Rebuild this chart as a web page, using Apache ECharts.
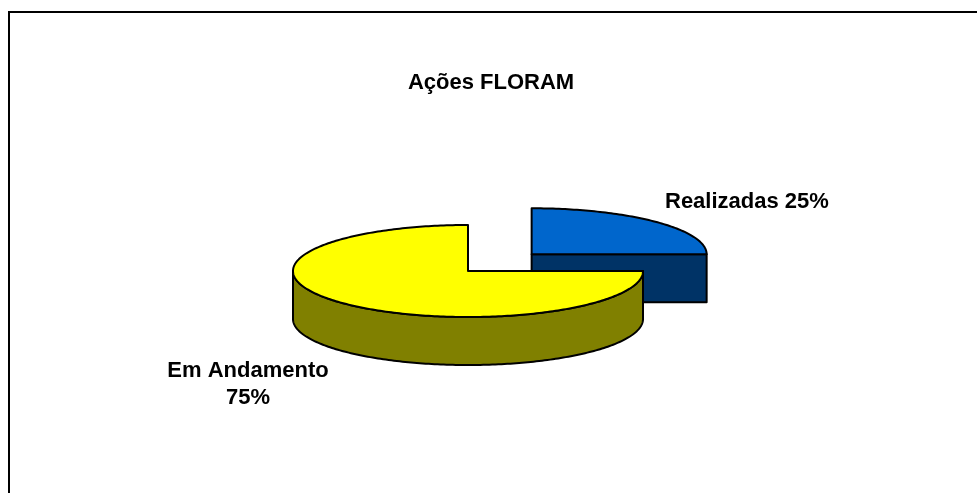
<!DOCTYPE html>
<html>
<head>
<meta charset="utf-8">
<script src="https://cdn.jsdelivr.net/npm/echarts@6/dist/echarts.min.js"></script>
<style>
  html, body { margin: 0; padding: 0; background: #fff; }
  #chart { width: 977px; height: 493px; }
</style>
</head>
<body>
<div id="chart"></div>
<script>
// data
const categories = ["Realizadas", "Em Andamento"];
const values = [25, 75];
const title_text = "Ações FLORAM";

// slice colors (top face / side face)
const top_colors = ["#0066CC", "#FFFF00"];
const side_colors = ["#003366", "#808000"];

// pie geometry
const cx = 468, cy = 271, rx = 175, ry = 46, depth = 48;
const explode_dist = 90;
const exploded = [true, false];
const font = "bold 22px Arial, 'Liberation Sans', sans-serif";

// label placement: [x, y, align, separator]
const label_pos = [
  [665, 202, "left", " "],
  [248, 384, "center", "\n"],
];

const total = values.reduce((a, b) => a + b, 0);

const pt = (c, a, dy) => [c[0] + rx * Math.cos(a), c[1] - ry * Math.sin(a) + (dy || 0)];
const arc = (c, a0, a1, dy) => {
  const n = Math.max(2, Math.ceil(Math.abs(a1 - a0) / (Math.PI / 180)));
  const pts = [];
  for (let k = 0; k <= n; k++) pts.push(pt(c, a0 + ((a1 - a0) * k) / n, dy));
  return pts;
};

const chart = echarts.init(document.getElementById("chart"));

const renderItem = (params, api) => {
  const i = params.dataIndex;
  let before = 0;
  for (let j = 0; j < i; j++) before += values[j];
  // slices run clockwise starting at 12 o'clock
  const hi = Math.PI / 2 - (before / total) * 2 * Math.PI;
  const lo = hi - (values[i] / total) * 2 * Math.PI;
  const mid = (lo + hi) / 2;
  const d = exploded[i] ? explode_dist : 0;
  const c = [cx + d * Math.cos(mid), cy - d * (ry / rx) * Math.sin(mid)];
  const base = Math.round(-Math.sin(mid) * 100);
  const line = { stroke: "#000", lineWidth: 2, lineJoin: "round" };
  const children = [];

  // radial cut faces that face the viewer
  [[lo, Math.cos(lo) > 1e-6], [hi, Math.cos(hi) < -1e-6]].forEach(([a, vis]) => {
    if (!vis) return;
    children.push({
      type: "polygon",
      z2: base,
      shape: { points: [c, pt(c, a), pt(c, a, depth), [c[0], c[1] + depth]] },
      style: Object.assign({ fill: side_colors[i] }, line),
    });
  });

  // curved outer wall, front half only
  for (let k = -2; k <= 2; k++) {
    const s = Math.max(lo, -Math.PI + 2 * Math.PI * k);
    const e = Math.min(hi, 2 * Math.PI * k);
    if (e - s < 1e-6) continue;
    children.push({
      type: "polygon",
      z2: base + 1,
      shape: { points: arc(c, s, e, 0).concat(arc(c, e, s, depth)) },
      style: Object.assign({ fill: side_colors[i] }, line),
    });
  }

  // top face
  children.push({
    type: "polygon",
    z2: base + 2,
    shape: { points: [c].concat(arc(c, lo, hi, 0)) },
    style: Object.assign({ fill: top_colors[i] }, line),
  });

  // label
  const pct = Math.round((values[i] / total) * 100);
  const lp = label_pos[i];
  children.push({
    type: "text",
    z2: 500,
    style: {
      text: categories[i] + lp[3] + pct + "%",
      x: lp[0],
      y: lp[1],
      font: font,
      fill: "#000",
      align: lp[2],
      verticalAlign: "middle",
      lineHeight: 27,
    },
  });

  return { type: "group", children };
};

chart.setOption({
  backgroundColor: "#fff",
  animation: false,
  graphic: [
    {
      type: "rect",
      shape: { x: 9, y: 12, width: 1100, height: 700 },
      style: { fill: "none", stroke: "#000", lineWidth: 2 },
    },
    {
      type: "text",
      style: {
        text: title_text,
        x: 491,
        y: 83,
        font: font,
        fill: "#000",
        align: "center",
        verticalAlign: "middle",
      },
    },
  ],
  series: [
    {
      type: "custom",
      coordinateSystem: "none",
      silent: true,
      data: values,
      renderItem: renderItem,
    },
  ],
});

window.addEventListener("resize", chart.resize);
</script>
</body>
</html>
